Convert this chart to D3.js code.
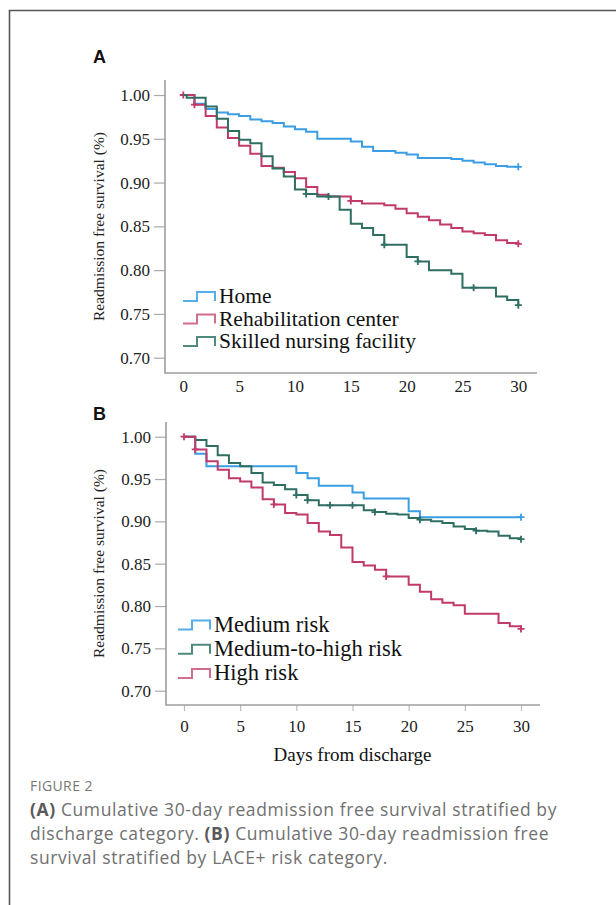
<!DOCTYPE html>
<html>
<head>
<meta charset="utf-8">
<script src="https://cdn.jsdelivr.net/npm/d3@7"></script>
<style>
  body { margin: 0; background: #fff; }
  svg { display: block; }
  .tick text { font-family: 'Liberation Serif', 'Times New Roman', serif; fill: #222; }
</style>
</head>
<body>
<div id="figure"></div>
<script>
// x ticks (days) and y ticks (survival)
const dayTicks = [0, 5, 10, 15, 20, 25, 30];
const survTicks = [0.70, 0.75, 0.80, 0.85, 0.90, 0.95, 1.00];

// panel A: discharge category
const homeDays = [0, 1, 2, 3, 4, 5, 6, 7, 8, 9, 10, 11, 12, 15, 16, 17, 19, 20, 21, 24, 25, 26, 27, 28, 29, 30];
const homeSurv = [1.0, 0.990, 0.984, 0.980, 0.978, 0.976, 0.972, 0.970, 0.968, 0.964, 0.961, 0.958, 0.950, 0.947, 0.941, 0.936, 0.934, 0.932, 0.928, 0.927, 0.925, 0.923, 0.921, 0.919, 0.918, 0.918];
const homeCensor = [30];

const rehabDays = [0, 1, 2, 3, 4, 5, 6, 7, 8, 9, 10, 11, 12, 13, 15, 16, 18, 19, 20, 21, 22, 23, 24, 25, 26, 27, 28, 29, 30];
const rehabSurv = [1.0, 0.989, 0.976, 0.963, 0.951, 0.942, 0.933, 0.919, 0.917, 0.912, 0.905, 0.895, 0.886, 0.884, 0.879, 0.876, 0.874, 0.870, 0.865, 0.861, 0.857, 0.852, 0.848, 0.844, 0.842, 0.840, 0.834, 0.831, 0.830];
const rehabCensor = [0, 1, 15, 30];

const snfDays = [0, 0.3, 2, 3, 4, 5, 6, 7, 8, 9, 10, 11, 12, 14, 15, 16, 17, 18, 20, 21, 22, 24, 25, 28, 29, 30];
const snfSurv = [1.0, 0.997, 0.987, 0.973, 0.959, 0.949, 0.945, 0.930, 0.916, 0.907, 0.892, 0.887, 0.884, 0.869, 0.853, 0.848, 0.840, 0.829, 0.815, 0.810, 0.800, 0.796, 0.780, 0.770, 0.766, 0.760];
const snfCensor = [11, 13, 18, 21, 26, 30];

// panel B: LACE+ risk category
const medDays = [0, 1, 2, 10, 11, 12, 15, 16, 20, 21, 30];
const medSurv = [1.0, 0.980, 0.965, 0.957, 0.951, 0.942, 0.934, 0.927, 0.912, 0.905, 0.905];
const medCensor = [30];

const medHighDays = [0, 1, 2, 3, 4, 5, 6, 7, 8, 9, 10, 11, 12, 16, 17, 18, 19, 20, 21, 22, 23, 24, 25, 26, 27, 28, 29, 30];
const medHighSurv = [1.0, 0.996, 0.989, 0.978, 0.969, 0.965, 0.957, 0.946, 0.943, 0.938, 0.931, 0.925, 0.919, 0.913, 0.911, 0.909, 0.908, 0.904, 0.902, 0.900, 0.898, 0.894, 0.891, 0.889, 0.888, 0.883, 0.880, 0.879];
const medHighCensor = [10, 11, 13, 15, 17, 21, 26, 30];

const highDays = [0, 1, 2, 3, 4, 5, 6, 7, 8, 9, 10, 11, 12, 13, 14, 15, 16, 17, 18, 20, 21, 22, 23, 24, 25, 28, 29, 30];
const highSurv = [1.0, 0.985, 0.971, 0.961, 0.951, 0.947, 0.940, 0.926, 0.920, 0.910, 0.908, 0.898, 0.888, 0.884, 0.869, 0.852, 0.848, 0.843, 0.835, 0.825, 0.817, 0.808, 0.804, 0.801, 0.791, 0.780, 0.776, 0.773];
const highCensor = [0, 1, 8, 18, 30];

const blue = '#3b9de3';
const crimson = '#c13a6a';
const teal = '#2f6e63';

const width = 616;
const height = 905;

let svg = d3.select('#figure')
  .append('svg')
    .attr('width', width)
    .attr('height', height);

// outer frame (top and left edges only)
svg.append('path')
    .attr('d', 'M9.5,905 L9.5,10.5 L616,10.5')
    .attr('fill', 'none')
    .attr('stroke', '#555')
    .attr('stroke-width', 1.6);

/**
* value of a step curve at a day.
*/
function survAt(ts, ss, day) {
  let i = d3.bisectRight(ts, day) - 1;
  return ss[Math.max(i, 0)];
}

/**
* draw one survival panel.
*/
function drawPanel(p) {
  let x = d3.scaleLinear().domain([0, 30]).range(p.xRange);
  let y = d3.scaleLinear().domain([0.70, 1.00]).range(p.yRange);

  let g = svg.append('g');

  svg.append('text')
      .attr('x', 93)
      .attr('y', p.labelY)
      .attr('font-family', "'Liberation Sans', Arial, sans-serif")
      .attr('font-weight', 'bold')
      .attr('font-size', 18)
      .attr('fill', '#111')
      .text(p.label);

  let yAxis = g.append('g')
      .attr('transform', 'translate(' + p.axisX + ',0)')
      .call(d3.axisLeft(y)
        .tickValues(survTicks)
        .tickFormat(d3.format('.2f'))
        .tickSize(11)
        .tickPadding(4));
  yAxis.select('.domain').remove();
  yAxis.selectAll('line').attr('stroke', '#aaa').attr('stroke-width', 1.2);
  yAxis.selectAll('text').attr('font-size', 17);

  let xAxis = g.append('g')
      .attr('transform', 'translate(0,' + p.axisY + ')')
      .call(d3.axisBottom(x)
        .tickValues(dayTicks)
        .tickSize(p.xTickSize)
        .tickPadding(p.xTickPad));
  xAxis.select('.domain').remove();
  xAxis.selectAll('line').attr('stroke', '#bbb').attr('stroke-width', 1.2);
  xAxis.selectAll('text').attr('font-size', 17);

  // axis frame lines
  g.append('path')
      .attr('d', 'M' + p.axisX + ',' + p.axisTop + ' L' + p.axisX + ',' + p.axisY +
        ' L' + p.axisRight + ',' + p.axisY)
      .attr('fill', 'none')
      .attr('stroke', '#9e9e9e')
      .attr('stroke-width', 1.6);

  g.append('text')
      .attr('transform', 'translate(' + p.yLabelX + ',' + ((p.axisTop + p.axisY) / 2) + ') rotate(-90)')
      .attr('text-anchor', 'middle')
      .attr('font-family', "'Liberation Serif', 'Times New Roman', serif")
      .attr('font-size', 15.5)
      .attr('fill', '#222')
      .text('Readmission free survival (%)');

  let line = d3.line()
      .curve(d3.curveStepAfter)
      .x(function(d) { return x(d[0]); })
      .y(function(d) { return y(d[1]); });

  p.series.forEach(function(s) {
    let pts = s.days.map(function(d, i) { return [d, s.surv[i]]; });
    g.append('path')
        .datum(pts)
        .attr('d', line)
        .attr('fill', 'none')
        .attr('stroke', s.color)
        .attr('stroke-width', 2);

    g.selectAll(null)
        .data(s.censor)
      .enter()
      .append('path')
        .attr('d', function(d) {
          let cx = x(d);
          let cy = y(survAt(s.days, s.surv, d));
          return 'M' + cx + ',' + (cy - 3.5) + ' L' + cx + ',' + (cy + 3.5) +
            ' M' + (cx - 3.5) + ',' + cy + ' L' + (cx + 3.5) + ',' + cy;
        })
        .attr('stroke', s.color)
        .attr('stroke-width', 1.8);
  });

  // legend
  p.series.forEach(function(s, i) {
    let by = p.legendY + i * p.legendStep;
    let lx = p.legendX;
    g.append('path')
        .attr('d', 'M' + lx + ',' + (by - 2) + ' L' + (lx + 14) + ',' + (by - 2) +
          ' L' + (lx + 14) + ',' + (by - 11) + ' L' + (lx + 32) + ',' + (by - 11) +
          ' L' + (lx + 32) + ',' + (by - 2))
        .attr('fill', 'none')
        .attr('stroke', s.legendColor)
        .attr('stroke-width', 2);
    g.append('text')
        .attr('x', lx + 36)
        .attr('y', by)
        .attr('font-family', "'Liberation Serif', 'Times New Roman', serif")
        .attr('font-size', p.legendFont)
        .attr('fill', '#111')
        .text(s.name);
  });
}

drawPanel({
  label: 'A',
  labelY: 63,
  xRange: [183.3, 518.3],
  yRange: [357.7, 95],
  axisX: 165,
  axisY: 373,
  axisTop: 80,
  axisRight: 537,
  xTickSize: 0,
  xTickPad: 7,
  yLabelX: 104,
  legendX: 183,
  legendY: 303,
  legendStep: 22.5,
  legendFont: 21.5,
  series: [
    {name: 'Home', days: homeDays, surv: homeSurv, censor: homeCensor, color: blue, legendColor: '#56aee8'},
    {name: 'Rehabilitation center', days: rehabDays, surv: rehabSurv, censor: rehabCensor, color: crimson, legendColor: '#d06d8f'},
    {name: 'Skilled nursing facility', days: snfDays, surv: snfSurv, censor: snfCensor, color: teal, legendColor: '#4e8a7f'},
  ],
});

drawPanel({
  label: 'B',
  labelY: 420,
  xRange: [184, 521],
  yRange: [690.7, 436.7],
  axisX: 166,
  axisY: 705,
  axisTop: 422,
  axisRight: 540,
  xTickSize: 6,
  xTickPad: 9,
  yLabelX: 104,
  legendX: 178,
  legendY: 631.5,
  legendStep: 24.2,
  legendFont: 22.5,
  series: [
    {name: 'Medium risk', days: medDays, surv: medSurv, censor: medCensor, color: blue, legendColor: '#56aee8'},
    {name: 'Medium-to-high risk', days: medHighDays, surv: medHighSurv, censor: medHighCensor, color: teal, legendColor: '#4e8a7f'},
    {name: 'High risk', days: highDays, surv: highSurv, censor: highCensor, color: crimson, legendColor: '#d06d8f'},
  ],
});

svg.append('text')
    .attr('x', 352.5)
    .attr('y', 761)
    .attr('text-anchor', 'middle')
    .attr('font-family', "'Liberation Serif', 'Times New Roman', serif")
    .attr('font-size', 19)
    .attr('fill', '#111')
    .text('Days from discharge');

// caption
svg.append('text')
    .attr('x', 30)
    .attr('y', 791)
    .attr('font-family', "'Open Sans', sans-serif")
    .attr('font-size', 14)
    .attr('letter-spacing', 0.4)
    .attr('fill', '#777')
    .text('FIGURE 2');

let captionLines = [
  [['(A)', true], [' Cumulative 30-day readmission free survival stratified by', false]],
  [['discharge category. ', false], ['(B)', true], [' Cumulative 30-day readmission free', false]],
  [['survival stratified by LACE+ risk category.', false]],
];

captionLines.forEach(function(parts, i) {
  let t = svg.append('text')
      .attr('x', 30)
      .attr('y', 816 + i * 24)
      .attr('font-family', "'Open Sans', sans-serif")
      .attr('font-size', 17.5)
      .attr('letter-spacing', 0.6)
      .attr('fill', '#707070')
      .attr('xml:space', 'preserve');
  parts.forEach(function(part) {
    t.append('tspan')
        .attr('font-weight', part[1] ? 'bold' : 'normal')
        .attr('fill', part[1] ? '#5a5a5a' : '#707070')
        .text(part[0]);
  });
});
</script>
</body>
</html>
